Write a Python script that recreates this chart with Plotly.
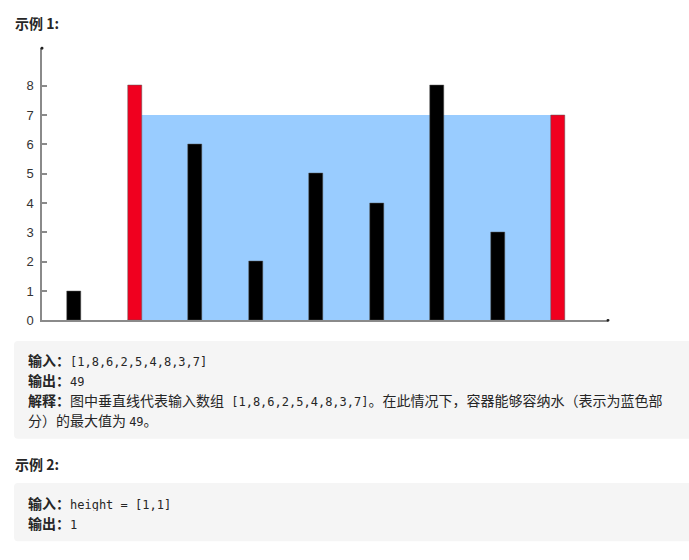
import plotly.graph_objects as go

# ---- data ----
heights = [1, 8, 6, 2, 5, 4, 8, 3, 7]
tick_vals = [0, 1, 2, 3, 4, 5, 6, 7, 8]
tick_text = ["0", "1", "2", "3", "4", "5", "6", "7", "8"]
heights2 = [1, 1]

W, H = 689, 560


def px(x):
    return x / W


def py(y):
    return 1 - y / H


def max_area(h):
    best = (0, 0, 0)
    for i in range(len(h)):
        for j in range(i + 1, len(h)):
            a = min(h[i], h[j]) * (j - i)
            if a > best[0]:
                best = (a, i, j)
    return best


area, li, ri = max_area(heights)
area2, _, _ = max_area(heights2)

# layout constants (pixel geometry)
AX_L, AX_R = 42, 608
AX_B, AX_T = 325, 49
C0, STEP = 74, 60.5
BAR_PX = 14
bw = BAR_PX / STEP
xr = [(AX_L - C0) / STEP, (AX_R - C0) / STEP]
unit_px = (325 - 87) / 8
yr = [0, (AX_B - AX_T) / unit_px]

RED = "#F0001F"
BLUE = "#99CCFF"
colors = [RED if k in (li, ri) else "#000000" for k in range(len(heights))]

fig = go.Figure()
fig.add_trace(go.Bar(
    x=list(range(len(heights))), y=heights, width=bw,
    marker=dict(color=colors, line=dict(width=0.5, color="#555")),
    hoverinfo="skip", showlegend=False,
))

shapes = []
# water area (computed from data)
shapes.append(dict(type="rect", xref="x", yref="y",
                   x0=li + bw / 2, x1=ri - bw / 2, y0=0,
                   y1=min(heights[li], heights[ri]),
                   fillcolor=BLUE, line=dict(width=0), layer="below"))
# axis end dots
for cx, cy in [(AX_L, AX_T), (AX_R, AX_B)]:
    shapes.append(dict(type="circle", xref="paper", yref="paper",
                       x0=px(cx - 1.5), x1=px(cx + 1.5),
                       y0=py(cy + 1.5), y1=py(cy - 1.5),
                       fillcolor="#222", line=dict(width=0)))


def rounded_box(x0, y0, x1, y1, r=4):
    X0, X1 = px(x0), px(x1)
    Y0, Y1 = py(y1), py(y0)
    rx, ry = r / W, r / H
    path = (f"M {X0+rx},{Y0} L {X1},{Y0} L {X1},{Y1} L {X0+rx},{Y1} "
            f"Q {X0},{Y1} {X0},{Y1-ry} L {X0},{Y0+ry} Q {X0},{Y0} {X0+rx},{Y0} Z")
    return dict(type="path", xref="paper", yref="paper", path=path,
                fillcolor="#F5F5F5", line=dict(width=0), layer="below")


shapes.append(rounded_box(14, 346, 689, 445))
shapes.append(rounded_box(14, 490, 689, 549))

CJK = "Noto Sans CJK SC"
MONO = "DejaVu Sans Mono"
TXT = "#262626"


def mono(s):
    return f"<span style='font-family:{MONO};font-size:12px'>{s}</span>"


arr_str = "[" + ",".join(str(v) for v in heights) + "]"
arr2_str = "[" + ",".join(str(v) for v in heights2) + "]"

lines = [
    (14, 23, "<b>示例 1:</b>"),
    (27, 364.5, "<b>输入：</b>" + mono(arr_str)),
    (27, 385, "<b>输出：</b>" + mono(str(area))),
    (27, 405.5, "<b>解释：</b>图中垂直线代表输入数组" + mono(" " + arr_str)
     + "。在此情况下，容器能够容纳水（表示为蓝色部"),
    (27, 426, "分）的最大值为 " + mono(str(area)) + "。"),
    (14, 470, "<b>示例 2:</b>"),
    (27, 509.5, "<b>输入：</b>" + mono("height = " + arr2_str)),
    (27, 530, "<b>输出：</b>" + mono(str(area2))),
]

annotations = []
for x, y, t in lines:
    annotations.append(dict(x=px(x), y=py(y), xref="paper", yref="paper",
                            text=t, showarrow=False, xanchor="left",
                            yanchor="middle", align="left", valign="middle",
                            height=17, borderpad=0,
                            font=dict(family=CJK, size=14, color=TXT)))

fig.update_layout(
    width=W, height=H, margin=dict(l=0, r=0, t=0, b=0),
    paper_bgcolor="white", plot_bgcolor="white",
    bargap=0, shapes=shapes, annotations=annotations,
    xaxis=dict(domain=[px(AX_L), px(AX_R)], range=xr, showgrid=False,
               zeroline=False, showticklabels=False, ticks="",
               showline=True, linecolor="#8a8a8a", linewidth=1.5,
               fixedrange=True),
    yaxis=dict(domain=[py(AX_B), py(AX_T)], range=yr, showgrid=False,
               zeroline=False, tickvals=tick_vals, ticktext=tick_text,
               ticks="inside", ticklen=5, tickcolor="#8a8a8a", tickwidth=1.5,
               showline=True, linecolor="#8a8a8a", linewidth=1.5,
               tickfont=dict(family="Liberation Sans", size=13, color="#333"),
               ticklabelstandoff=4, fixedrange=True),
)

fig.write_html("out.html")
